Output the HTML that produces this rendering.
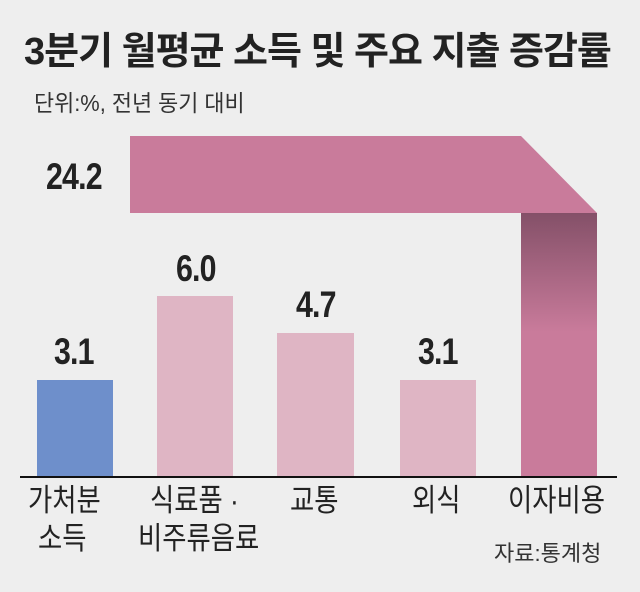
<!DOCTYPE html>
<html><head><meta charset="utf-8"><style>
body{margin:0;background:#eeeeee;}
.w{position:relative;width:640px;height:592px;overflow:hidden;background:#eeeeee;font-family:"Liberation Sans","Noto Sans CJK KR",sans-serif;color:#222;}
.a{position:absolute;white-space:nowrap;}
.v{font-size:37px;font-weight:bold;letter-spacing:-1px;transform:scaleX(0.82);transform-origin:left top;}
.l{font-size:31px;line-height:38px;transform:scaleX(0.85);transform-origin:left top;}
</style></head><body><div class="w">
<div class="a" style="left:24px;top:20px;font-size:38px;font-weight:bold;letter-spacing:-1px;">3분기 월평균 소득 및 주요 지출 증감률</div>
<div class="a" style="left:34px;top:84px;font-size:23px;color:#333;transform:scaleX(0.95);transform-origin:left top;">단위:%, 전년 동기 대비</div>
<svg class="a" style="left:0;top:0" width="640" height="592">
<defs><linearGradient id="g" x1="0" y1="0" x2="0" y2="1">
<stop offset="0" stop-color="#845068"/><stop offset="0.45" stop-color="#c97b9b"/><stop offset="1" stop-color="#c97b9b"/></linearGradient></defs>
<polygon points="130,136 521,136 597,213 130,213" fill="#c97b9b"/>
<rect x="521" y="213" width="76" height="264" fill="url(#g)"/>
<rect x="37" y="380" width="76" height="97" fill="#6e8fcb"/>
<rect x="157" y="296" width="76" height="181" fill="#dfb5c4"/>
<rect x="277" y="333" width="77" height="144" fill="#dfb5c4"/>
<rect x="400" y="380" width="76" height="97" fill="#dfb5c4"/>
<line x1="20" y1="477" x2="617" y2="477" stroke="#111" stroke-width="2"/>
</svg>
<div class="a v" style="left:46px;top:156px;">24.2</div>
<div class="a v" style="left:54px;top:331px;">3.1</div>
<div class="a v" style="left:176px;top:248px;">6.0</div>
<div class="a v" style="left:296px;top:284px;">4.7</div>
<div class="a v" style="left:418px;top:331px;">3.1</div>
<div class="a l" style="left:28px;top:482px;">가처분</div>
<div class="a l" style="left:38px;top:520px;">소득</div>
<div class="a l" style="left:150px;top:482px;">식료품 ·</div>
<div class="a l" style="left:138px;top:520px;">비주류음료</div>
<div class="a l" style="left:290px;top:482px;">교통</div>
<div class="a l" style="left:412px;top:482px;">외식</div>
<div class="a l" style="left:508px;top:482px;">이자비용</div>
<div class="a" style="left:494px;top:536px;font-size:22px;color:#333;">자료:통계청</div>
</div></body></html>
